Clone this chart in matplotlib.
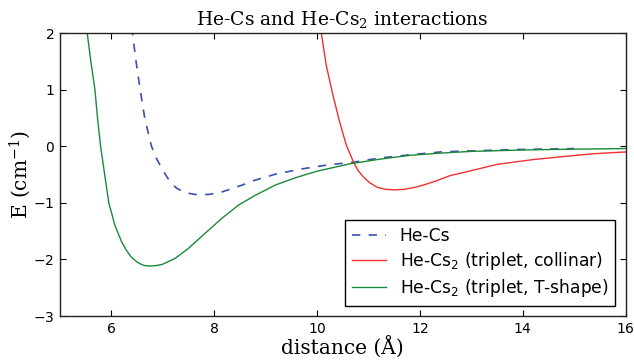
import matplotlib
matplotlib.use("Agg")
import matplotlib.pyplot as plt

# He-Cs potential
x_hecs = [6.36, 6.41, 6.48, 6.56, 6.65, 6.78, 6.88, 6.98, 7.08, 7.17, 7.27, 7.37, 7.50,
          7.62, 7.75, 7.90, 8.14, 8.53, 8.79, 9.20, 9.70, 10.20, 10.71, 11.20, 11.80,
          12.40, 13.00, 14.00, 15.00]
e_hecs = [2.4, 2.0, 1.5, 1.0, 0.49, 0.0, -0.22, -0.39, -0.54, -0.66, -0.74, -0.79, -0.83,
          -0.85, -0.855, -0.85, -0.81, -0.69, -0.60, -0.49, -0.40, -0.33, -0.28, -0.21, -0.15,
          -0.10, -0.08, -0.055, -0.04]

# He-Cs2 triplet, collinear
x_col = [10.04, 10.09, 10.18, 10.31, 10.44, 10.57, 10.71, 10.80, 10.90, 11.02, 11.16,
         11.32, 11.51, 11.70, 11.93, 12.12, 12.32, 12.58, 13.00, 13.50, 14.20, 14.80,
         15.40, 16.00]
e_col = [2.4, 1.96, 1.43, 0.90, 0.43, 0.02, -0.28, -0.43, -0.54, -0.64, -0.72,
         -0.76, -0.77, -0.76, -0.72, -0.67, -0.61, -0.52, -0.43, -0.32, -0.235, -0.18,
         -0.13, -0.10]

# He-Cs2 triplet, T-shape
x_t = [5.49, 5.53, 5.60, 5.68, 5.73, 5.79, 5.87, 5.95, 6.07, 6.20, 6.30, 6.39, 6.49,
       6.59, 6.66, 6.74, 6.85, 6.98, 7.10, 7.24, 7.49, 7.82, 8.14, 8.47, 8.79, 9.20,
       9.60, 10.00, 10.64, 11.20, 11.80, 12.40, 13.00, 14.00, 15.00, 16.00]
e_t = [2.3, 2.0, 1.5, 1.0, 0.5, 0.0, -0.5, -1.0, -1.40, -1.69, -1.85, -1.96, -2.04,
       -2.09, -2.11, -2.115, -2.11, -2.09, -2.04, -1.98, -1.81, -1.54, -1.28, -1.04, -0.87,
       -0.68, -0.55, -0.44, -0.31, -0.23, -0.16, -0.12, -0.09, -0.065, -0.05, -0.04]

serif = ['DejaVu Serif']

plt.rcParams['font.family'] = ['DejaVu Sans']
plt.rcParams['axes.formatter.use_mathtext'] = True

fig = plt.figure(figsize=(6.34, 3.6), dpi=100)
ax = fig.add_axes([0.0946, 0.122, 0.892, 0.786])

ax.plot(x_hecs, e_hecs, color='#3a4fb0', lw=1.2, ls=(0, (5, 5)), label='He-Cs')
ax.plot(x_col, e_col, color='#f03030', lw=1.0, label='He-Cs$_2$ (triplet, collinar)')
ax.plot(x_t, e_t, color='#1a8a3a', lw=1.0, label='He-Cs$_2$ (triplet, T-shape)')

ax.set_xlim(5, 16)
ax.set_ylim(-3, 2)
ax.set_xticks([6, 8, 10, 12, 14, 16])
ax.set_yticks([-3, -2, -1, 0, 1, 2])
ax.tick_params(direction='in', top=True, right=True, length=4, labelsize=10, pad=4)
for s in ax.spines.values():
    s.set_linewidth(1.0)
    s.set_color('#222222')

ax.set_title('He-Cs and He-Cs$_2$ interactions', fontsize=13.5, family=serif,
             math_fontfamily='dejavuserif', pad=6)
ax.set_xlabel('distance (Å)', fontsize=14.5, family=serif,
              math_fontfamily='dejavuserif')
ax.set_ylabel(r'E (cm$^{-1}$)', fontsize=14.5, family=serif,
              math_fontfamily='dejavuserif')
ax.xaxis.set_label_coords(0.5, -0.068)
ax.yaxis.set_label_coords(-0.047, 0.5)

leg = ax.legend(loc='lower right', fontsize=12.3, fancybox=False, framealpha=1,
                edgecolor='black', handlelength=2.0, borderaxespad=0.6,
                borderpad=0.4, labelspacing=0.3)
leg.get_frame().set_linewidth(1.0)

fig.savefig('out.png', dpi=100)
